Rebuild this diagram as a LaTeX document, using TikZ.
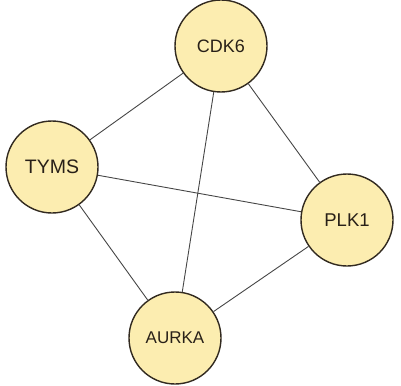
\documentclass[tikz,border=0pt]{standalone}
\usepackage{fontspec}
\setmainfont{Liberation Sans}
\definecolor{nodefill}{RGB}{252,237,176}
\definecolor{nodeedge}{RGB}{50,42,32}
\definecolor{edgegray}{RGB}{70,70,70}
\definecolor{labeltext}{RGB}{40,32,24}
\tikzset{
  gene/.style={circle, draw=nodeedge, line width=1.4pt, fill=nodefill, minimum size=92pt, inner sep=0pt, text=labeltext},
  link/.style={draw=edgegray, line width=0.9pt}
}
\begin{document}
\begin{tikzpicture}[x=1pt,y=-1pt]
\useasboundingbox (0,0) rectangle (401,385);
\node[gene] (cdk6) at (221,46) {\fontsize{18}{20}\selectfont CDK6};
\node[gene] (tyms) at (52,167) {\fontsize{19.5}{21}\selectfont TYMS};
\node[gene] (plk1) at (347,220) {\fontsize{18.5}{20}\selectfont PLK1};
\node[gene] (aurka) at (175,338) {\fontsize{17}{19}\selectfont AURKA};
\draw[link] (cdk6) -- (tyms);
\draw[link] (cdk6) -- (aurka);
\draw[link] (cdk6) -- (plk1);
\draw[link] (tyms) -- (plk1);
\draw[link] (tyms) -- (aurka);
\draw[link] (plk1) -- (aurka);
\end{tikzpicture}
\end{document}
